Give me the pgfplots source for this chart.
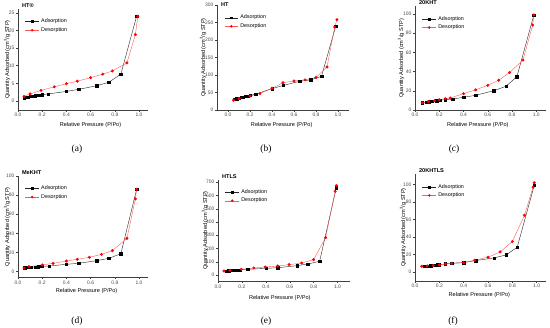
\documentclass[border=0pt]{standalone}
\usepackage{fontspec}
\setmainfont{Liberation Sans}
\newfontfamily\capfont{Liberation Serif}
\usepackage{pgfplots}
\pgfplotsset{compat=1.18}
\definecolor{desred}{RGB}{255,0,0}
\pgfplotsset{
  iso/.style={
    scale only axis,
    clip=false,
    axis lines=left,
    axis line style={-, line width=0.45bp, black!75},
    tick style={line width=0.4bp, black!75},
    tick align=outside,
    major tick length=1.8bp,
    xtick={0,0.2,0.4,0.6,0.8,1.0},
    xticklabel style={/pgf/number format/.cd,fixed,fixed zerofill,precision=1},
    /pgf/number format/assume math mode=true,
    ticklabel style={font=\fontsize{5}{6}\selectfont, text=black!70, inner sep=1.5bp},
    xlabel={Relative Pressure (P/Po)},
    ylabel={Quantity Adsorbed (cm\textsuperscript{3}/g STP)},
    label style={font=\fontsize{5.6}{6.5}\selectfont},
    legend style={at={(0.05,0.93)}, anchor=north west, draw=none, fill=none,
      font=\fontsize{5.4}{6}\selectfont, row sep=-0.8bp, inner sep=0.5bp},
    legend cell align=left,
    legend image post style={scale=0.8},
    ads/.style={black!85, line width=0.4bp, mark=square*, mark size=1.2bp, mark options={solid, fill=black, draw=black}},
    des/.style={desred!65, line width=0.4bp, mark=*, mark size=1.3bp, mark options={solid, fill=desred, draw=desred}},
  },
  lab/.style n args={3}{
    ylabel style={at={(axis description cs:#1,0.5)}, anchor=center},
    xlabel style={at={(axis description cs:#2,0)}, anchor=center, yshift=-#3},
  }
}
\newcommand{\ptitle}[1]{\node[anchor=west, font=\bfseries\fontsize{5.6}{6.5}\selectfont, inner sep=0bp, yshift=3.5bp] at (rel axis cs:0.03,1) {#1};}
\begin{document}
\begin{tikzpicture}
\path[use as bounding box] (0,0) rectangle (550bp,328bp);
% (a)
\begin{axis}[iso, lab={-0.085}{0.56}{15bp}, at={(18bp,218.2bp)}, anchor=south west, width=129.5bp, height=100.6bp,
  xmin=0, xmax=1.07, ymin=-2.5, ymax=26, ytick={0,5,10,15,20,25}]
\addplot[ads] coordinates {(0.05,0.9)(0.08,1.1)(0.1,1.3)(0.12,1.4)(0.14,1.5)(0.16,1.6)(0.18,1.7)(0.2,1.8)(0.25,2.0)(0.4,2.7)(0.5,3.3)(0.65,4.3)(0.75,5.3)(0.85,7.6)(0.98,24)};
\addlegendentry{Adsorption}
\addplot[des] coordinates {(0.05,1.3)(0.1,2.0)(0.19,3.0)(0.3,4.0)(0.4,4.9)(0.49,5.6)(0.6,6.6)(0.7,7.6)(0.78,8.5)(0.9,10.8)(0.97,18.8)(0.99,24)};
\addlegendentry{Desorption}
\ptitle{HT®}
\end{axis}
% (b)
\begin{axis}[iso, lab={-0.106}{0.49}{15bp}, at={(217bp,218bp)}, anchor=south west, width=132bp, height=105bp,
  xmin=-0.1, xmax=1.1, ymin=0, ymax=300, ytick={0,50,100,150,200,250,300}]
\addplot[ads] coordinates {(0.06,31)(0.08,32)(0.1,34)(0.12,36)(0.14,37)(0.16,39)(0.18,40)(0.2,42)(0.25,45)(0.4,61)(0.5,70)(0.65,82)(0.75,86)(0.85,96)(0.98,240)};
\addlegendentry{Adsorption}
\addplot[des] coordinates {(0.05,28)(0.1,33)(0.2,40)(0.29,47)(0.4,62)(0.5,78)(0.6,83)(0.7,86)(0.8,93)(0.9,123)(0.97,237)(0.99,258)};
\addlegendentry{Desorption}
\node[anchor=west, font=\bfseries\fontsize{5.6}{6.5}\selectfont, inner sep=0bp] at (rel axis cs:0.03,1) {HT};
\end{axis}
% (c)
\begin{axis}[iso, lab={-0.107}{0.48}{15bp}, at={(415bp,218bp)}, anchor=south west, width=131bp, height=103.7bp,
  xmin=0, xmax=1.08, ymin=0, ymax=108, ytick={0,20,40,60,80,100}]
\addplot[ads] coordinates {(0.06,7.6)(0.09,8)(0.115,8.7)(0.14,9.4)(0.18,9.7)(0.21,10.4)(0.25,10.8)(0.31,11.5)(0.4,13.2)(0.5,15.3)(0.65,20.1)(0.75,24.7)(0.84,34.7)(0.98,99)};
\addlegendentry{Adsorption}
\addplot[des] coordinates {(0.06,7.6)(0.11,9)(0.16,9.7)(0.2,10.8)(0.25,11.8)(0.29,12.5)(0.4,17)(0.5,21)(0.6,25.7)(0.69,31)(0.78,39)(0.89,52)(0.97,88.5)(0.98,99)};
\addlegendentry{Desorption}
\ptitle{20KHT}
\end{axis}
% (d)
\begin{axis}[iso, lab={-0.085}{0.53}{14bp}, at={(18bp,50.6bp)}, anchor=south west, width=129.5bp, height=101.4bp,
  xmin=0, xmax=1.07, ymin=-6, ymax=100, ytick={0,20,40,60,80,100}]
\addplot[ads] coordinates {(0.055,4.2)(0.08,4.5)(0.11,4.5)(0.14,4.9)(0.165,5.2)(0.185,5.6)(0.2,5.6)(0.26,5.9)(0.4,7.7)(0.5,8.7)(0.65,11.5)(0.75,13.9)(0.85,18.8)(0.98,86)};
\addlegendentry{Adsorption}
\addplot[des] coordinates {(0.05,3.8)(0.09,5.2)(0.2,7)(0.29,8.7)(0.4,11.1)(0.49,12.9)(0.59,15)(0.69,18.1)(0.78,22)(0.9,34.8)(0.97,76)(0.98,86)};
\addlegendentry{Desorption}
\ptitle{MeKHT}
\end{axis}
% (e)
\begin{axis}[iso, lab={-0.099}{0.47}{16bp}, at={(218bp,46.4bp)}, anchor=south west, width=131.5bp, height=102bp,
  xmin=0, xmax=1.1, ymin=-50, ymax=720, ytick={0,100,200,300,400,500,600,700}]
\addplot[ads] coordinates {(0.07,30)(0.09,33)(0.11,34)(0.13,35)(0.15,36)(0.18,38)(0.25,43)(0.405,50)(0.5,55)(0.66,70)(0.75,83)(0.85,103)(0.99,660)};
\addlegendentry{Adsorption}
\addplot[des] coordinates {(0.05,30)(0.1,35)(0.195,43)(0.3,53)(0.395,60)(0.5,68)(0.595,78)(0.7,90)(0.8,116)(0.9,282)(0.98,632)(0.99,675)};
\addlegendentry{Desorption}
\ptitle{HTLS}
\end{axis}
% (f)
\begin{axis}[iso, lab={-0.091}{0.49}{14bp}, at={(415bp,47bp)}, anchor=south west, width=131.4bp, height=107bp,
  xmin=0, xmax=1.08, ymin=-10, ymax=112, ytick={0,20,40,60,80,100}]
\addplot[ads] coordinates {(0.075,6.8)(0.1,7.2)(0.13,7.6)(0.155,8)(0.18,8.4)(0.2,8.7)(0.25,9.5)(0.3,10.3)(0.4,11)(0.5,13.3)(0.65,16.3)(0.75,19.8)(0.84,28.5)(0.98,99)};
\addlegendentry{Adsorption}
\addplot[des] coordinates {(0.055,6.8)(0.1,7.2)(0.15,7.6)(0.2,8.4)(0.25,9.5)(0.3,9.9)(0.4,11)(0.49,13.7)(0.6,17.1)(0.7,23.2)(0.8,35)(0.9,65)(0.97,97)(0.98,102)};
\addlegendentry{Desorption}
\ptitle{20KHTLS}
\end{axis}
% subcaptions
\begin{scope}[every node/.style={font=\capfont\fontsize{9.5}{11}\selectfont}]
\node at (77bp,179bp) {(a)};
\node at (266bp,179bp) {(b)};
\node at (454bp,179bp) {(c)};
\node at (77bp,7bp) {(d)};
\node at (266bp,7bp) {(e)};
\node at (453bp,7bp) {(f)};
\end{scope}
\end{tikzpicture}
\end{document}
